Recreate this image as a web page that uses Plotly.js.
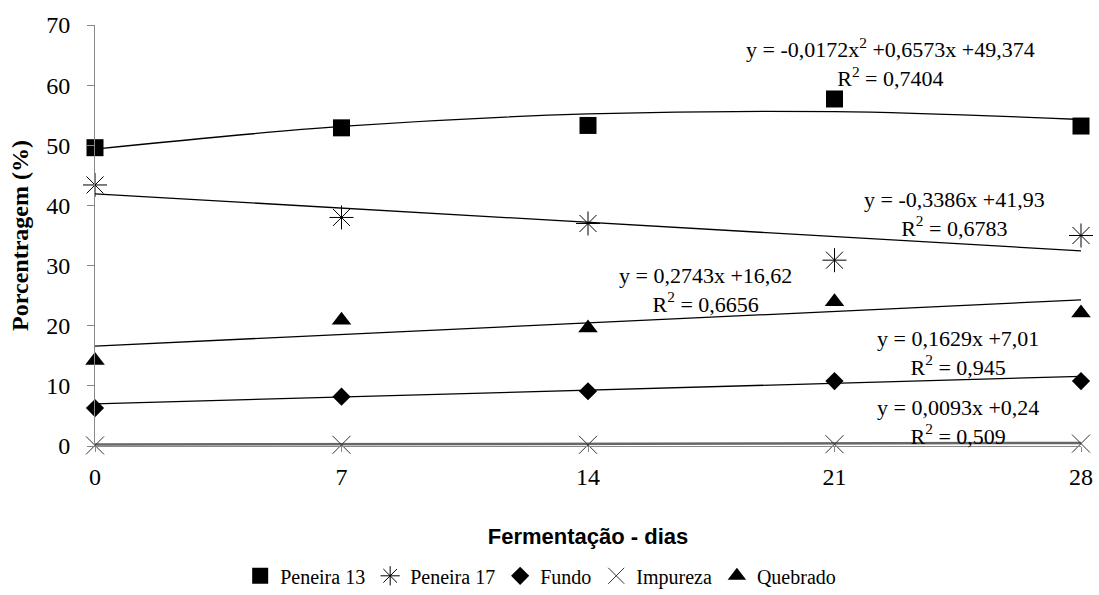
<!DOCTYPE html>
<html>
<head>
<meta charset="utf-8">
<script src="https://cdn.plot.ly/plotly-3.0.1.min.js"></script>
<style>html,body{margin:0;padding:0;background:#fff;}#chart{width:1099px;height:595px;}</style>
</head>
<body>
<div id="chart"></div>
<script>
// Days of fermentation
const dias = [0, 7, 14, 21, 28];
const peneira13 = [49.6, 52.9, 53.3, 57.7, 53.2];
const peneira17 = [43.4, 38.0, 37.0, 30.9, 35.0];
const fundo     = [6.3, 8.2, 9.1, 10.8, 10.8];
const impureza  = [0.1, 0.2, 0.2, 0.3, 0.4];
const quebrado  = [14.2, 20.9, 19.6, 24.0, 22.1];
// Trendline values read at the day points / endpoints
const trendDias13 = [0, 7, 14, 21, 28];
const trend13 = [49.37, 53.13, 55.21, 55.59, 54.29];
const trendEnds = [0, 28];
const trend17 = [41.93, 32.45];
const trendFundo = [7.01, 11.57];
const trendImp = [0.24, 0.50];
const trendQueb = [16.62, 24.30];
// Equation labels
const eqLabels = [
  "y = -0,0172x<sup>2</sup> +0,6573x +49,374<br>R<sup>2</sup> = 0,7404",
  "y = -0,3386x +41,93<br>R<sup>2</sup> = 0,6783",
  "y = 0,2743x +16,62<br>R<sup>2</sup> = 0,6656",
  "y = 0,1629x +7,01<br>R<sup>2</sup> = 0,945",
  "y = 0,0093x +0,24<br>R<sup>2</sup> = 0,509"
];
const eqX = [22.6, 24.4, 17.35, 24.5, 24.5];
const eqY = [63.8, 38.6, 26.0, 15.5, 4.0];

const serif = "Liberation Serif, Times New Roman, serif";
const lineStyle = {color: "#000", width: 1.3};

const traces = [
  {x: trendDias13, y: trend13, mode: "lines", line: Object.assign({shape: "spline"}, lineStyle), showlegend: false, hoverinfo: "skip"},
  {x: trendEnds, y: trend17, mode: "lines", line: lineStyle, showlegend: false, hoverinfo: "skip"},
  {x: trendEnds, y: trendFundo, mode: "lines", line: lineStyle, showlegend: false, hoverinfo: "skip"},
  {x: trendEnds, y: trendImp, mode: "lines", line: {color: "#666", width: 2.5}, showlegend: false, hoverinfo: "skip"},
  {x: trendEnds, y: trendQueb, mode: "lines", line: lineStyle, showlegend: false, hoverinfo: "skip"},
  {x: dias, y: peneira13, name: "Peneira 13", mode: "markers", cliponaxis: false,
   marker: {symbol: "square", size: 17, color: "#000"}},
  {x: dias, y: peneira17, name: "Peneira 17", mode: "markers", cliponaxis: false,
   marker: {symbol: "asterisk-open", size: 20, color: "#000", line: {color: "#000", width: 1}}},
  {x: dias, y: fundo, name: "Fundo", mode: "markers", cliponaxis: false,
   marker: {symbol: "diamond", size: 14, color: "#000"}},
  {x: dias, y: impureza, name: "Impureza", mode: "markers", cliponaxis: false,
   marker: {symbol: "x-thin-open", size: 18, color: "#333", line: {color: "#333", width: 1}}},
  {x: dias, y: quebrado, name: "Quebrado", mode: "markers", cliponaxis: false,
   marker: {symbol: "triangle-up", size: 17, color: "#000"}}
];

const annotations = eqLabels.map((t, i) => ({
  x: eqX[i], y: eqY[i], xref: "x", yref: "y", text: t, showarrow: false,
  font: {family: serif, size: 22, color: "#000"}, align: "center"
}));

const layout = {
  width: 1099, height: 595,
  margin: {l: 95, r: 18, t: 25, b: 149, autoexpand: false},
  paper_bgcolor: "#fff", plot_bgcolor: "#fff",
  xaxis: {
    range: [0, 28], tickvals: dias, ticktext: dias.map(String),
    showline: true, linecolor: "#888", linewidth: 1, showgrid: false, zeroline: false,
    ticks: "outside", ticklen: 5, tickcolor: "#888", ticklabelstandoff: 4,
    tickfont: {family: serif, size: 24, color: "#000"},
    title: {text: "Fermentação - dias", standoff: 39,
      font: {family: "Liberation Sans, Arial, sans-serif", size: 22, color: "#000", weight: "bold"}}
  },
  yaxis: {
    range: [0, 70], dtick: 10,
    showline: true, linecolor: "#888", linewidth: 1, showgrid: false, zeroline: false,
    ticks: "outside", ticklen: 7, tickcolor: "#888", ticklabelstandoff: 12,
    tickfont: {family: serif, size: 24, color: "#000"},
    title: {text: "Porcentragem (%)", standoff: 10,
      font: {family: serif, size: 24, color: "#000", weight: "bold"}}
  },
  legend: {
    orientation: "h", x: 0.452, xanchor: "center", y: -0.262, yanchor: "top",
    font: {family: serif, size: 20, color: "#000"}, itemwidth: 30
  },
  annotations: annotations
};

Plotly.newPlot("chart", traces, layout, {displayModeBar: false, staticPlot: true});
</script>
</body>
</html>
